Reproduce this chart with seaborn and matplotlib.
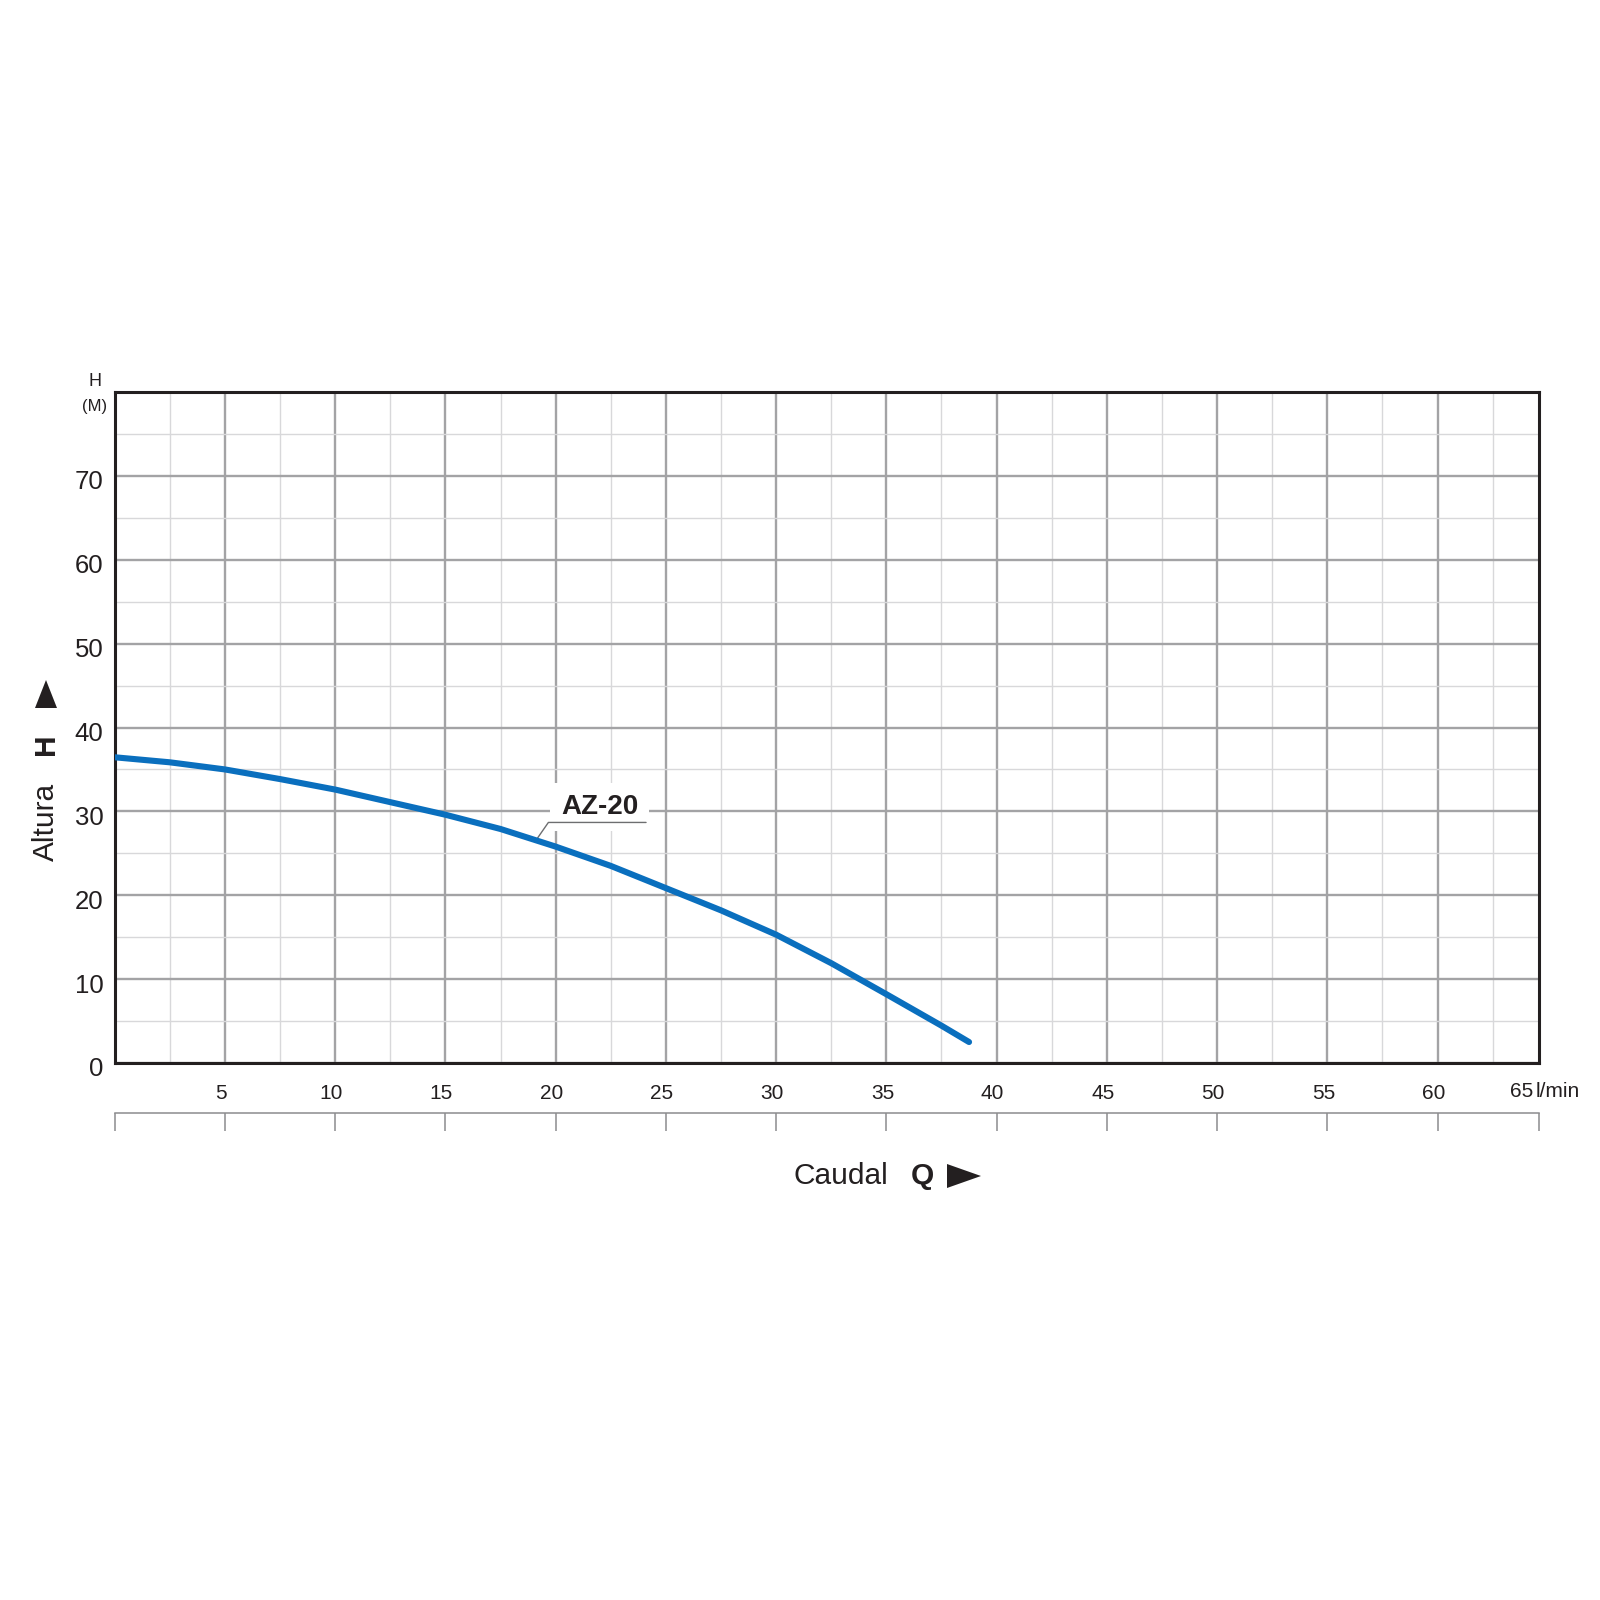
import numpy as np
import matplotlib
matplotlib.use("Agg")
import matplotlib.pyplot as plt
from matplotlib.patches import Polygon
from matplotlib.transforms import ScaledTranslation
import seaborn as sns

# pump curve AZ-20
flow_lpm = [0, 2.5, 5, 7.5, 10, 12.5, 15, 17.5, 20, 22.5, 25, 27.5, 30, 32.5, 35, 37.5, 38.75]
head_m = [36.45, 35.85, 35.0, 33.85, 32.6, 31.1, 29.6, 27.9, 25.8, 23.5, 20.85, 18.2, 15.3, 11.9, 8.2, 4.45, 2.5]
curve_name = "AZ-20"

x_major = list(range(5, 61, 5))
x_minor = [2.5 + 5 * i for i in range(13)]
y_major = list(range(0, 71, 10))
y_minor = [5 + 10 * i for i in range(8)]

sns.set_theme(style="white")
plt.rcParams["font.family"] = ["Liberation Sans", "DejaVu Sans"]

W = 1600.0
def fx(px):
    return px / W
def fy(py):
    return 1 - py / W

fig = plt.figure(figsize=(16, 16), dpi=100)
ax = fig.add_axes([fx(114.7), fy(1063), 1424.3 / W, 671 / W])

sns.lineplot(x=flow_lpm, y=head_m, ax=ax, color="#0a6fbe", linewidth=4.4,
             sort=False, zorder=5, solid_capstyle="round", solid_joinstyle="round")

ax.set_xlim(0, 64.6)
ax.set_ylim(0, 80)
ax.set_xticks(x_major)
ax.set_xticklabels([str(v) for v in x_major], fontsize=15, color="#231f20")
ax.set_xticks(x_minor, minor=True)
ax.set_yticks(y_major)
ax.set_yticklabels([str(v) for v in y_major], fontsize=18.5, color="#231f20")
ax.set_yticks(y_minor, minor=True)
ax.tick_params(which="both", length=0)
ax.tick_params(axis="x", pad=15)
ax.tick_params(axis="y", pad=8)
ax.grid(which="major", color="#a3a3a5", linewidth=1.7)
ax.grid(which="minor", color="#d8d8da", linewidth=1.0)
ax.set_axisbelow(True)
for s in ax.spines.values():
    s.set_visible(True)
    s.set_color("#231f20")
    s.set_linewidth(2.2)
ax.set_xlabel("")
ax.set_ylabel("")

# small offsets of tick labels like the original
for lab in ax.get_yticklabels():
    lab.set_transform(lab.get_transform() + ScaledTranslation(0, -0.04, fig.dpi_scale_trans))
for lab in ax.get_xticklabels():
    lab.set_transform(lab.get_transform() + ScaledTranslation(-0.04, 0, fig.dpi_scale_trans))

# secondary scale line under the axis
sec = ax.secondary_xaxis(-0.0741)
sec.set_xticks([0] + x_major + [64.6])
sec.tick_params(direction="out", length=13, width=1.1, color="#8c8c8e", labelbottom=False)
sec.spines["bottom"].set_color("#8c8c8e")
sec.spines["bottom"].set_linewidth(1.1)

# curve label
ax.text(22.0, 30.55, curve_name, fontsize=20, fontweight="bold", color="#231f20",
        ha="center", va="center", zorder=3,
        bbox=dict(facecolor="white", edgecolor="none", boxstyle="square,pad=0.4"))
ax.plot([24.1, 19.67, 19.12], [28.68, 28.68, 26.6], color="#6d6e70", linewidth=1.0, zorder=4)

# axis texts
fig.text(fx(95), fy(381), "H", fontsize=13, ha="center", va="center", color="#231f20",
         family=["Liberation Sans Narrow", "Liberation Sans", "DejaVu Sans"])
fig.text(fx(95), fy(407), "(M)", fontsize=12, ha="center", va="center", color="#231f20",
         family=["Liberation Sans Narrow", "Liberation Sans", "DejaVu Sans"])
fig.text(fx(46), fy(822), "Altura", fontsize=21.5, rotation=90, ha="center", va="center", color="#231f20")
fig.text(fx(46), fy(744.5), "H", fontsize=21.5, fontweight="bold", rotation=90,
         ha="center", va="center", color="#231f20")
fig.patches.append(Polygon([[fx(35), fy(708)], [fx(57), fy(708)], [fx(46), fy(680)]],
                           closed=True, transform=fig.transFigure, facecolor="#231f20",
                           edgecolor="none"))

fig.text(fx(841), fy(1176), "Caudal", fontsize=21.5, ha="center", va="center", color="#231f20")
fig.text(fx(922.5), fy(1176), "Q", fontsize=21.5, fontweight="bold", ha="center", va="center", color="#231f20")
fig.patches.append(Polygon([[fx(947), fy(1164)], [fx(947), fy(1188)], [fx(981), fy(1176)]],
                           closed=True, transform=fig.transFigure, facecolor="#231f20",
                           edgecolor="none"))

fig.text(fx(1533), fy(1091.5), "65", fontsize=15, ha="right", va="center", color="#231f20")
fig.text(fx(1536), fy(1091.5), "l/min", fontsize=15, ha="left", va="center", color="#231f20")

fig.savefig("out.png", dpi=100, facecolor="white")
